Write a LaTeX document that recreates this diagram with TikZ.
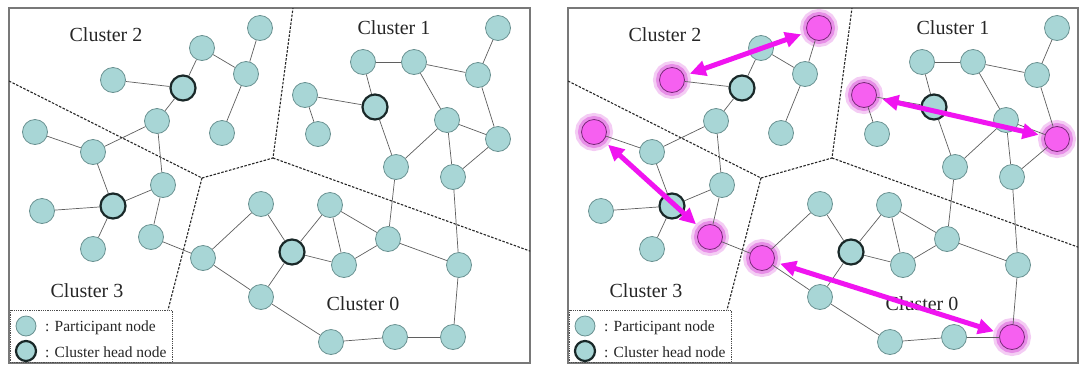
\documentclass[tikz,border=0pt]{standalone}
\usepackage{fontspec}
\setmainfont{Liberation Serif}
\usetikzlibrary{arrows.meta}
\definecolor{nodefill}{RGB}{168,214,214}
\definecolor{nodeline}{RGB}{105,145,145}
\definecolor{headline}{RGB}{25,40,40}
\definecolor{pinkfill}{RGB}{246,96,240}
\definecolor{pinkline}{RGB}{120,40,120}
\definecolor{halo}{RGB}{225,110,225}
\definecolor{arrowc}{RGB}{240,20,240}
\definecolor{edgec}{RGB}{95,95,95}
\definecolor{framec}{RGB}{120,120,120}
\tikzset{
 pnode/.style={circle, minimum size=25pt, inner sep=0pt, fill=nodefill, draw=nodeline, line width=0.8pt},
 chead/.style={pnode, draw=headline, line width=2.2pt},
 pinknode/.style={circle, minimum size=25pt, inner sep=0pt, fill=pinkfill, draw=pinkline, line width=0.8pt,
   preaction={draw=halo, draw opacity=0.35, line width=13pt},
   preaction={draw=halo, draw opacity=0.65, line width=7pt}},
 hl/.style={pnode},
 link/.style={draw=edgec, line width=0.7pt},
 boundary/.style={draw=black!85, line width=1.1pt, dash pattern=on 2.5pt off 1.5pt},
 panelframe/.style={draw=framec, line width=1.5pt},
 lbl/.style={font=\fontsize{20}{24}\selectfont, anchor=base, text=black!85, inner sep=0pt},
 legtxt/.style={font=\fontsize{15.5}{18}\selectfont, anchor=base west, inner sep=0pt, text=black!85},
 legbox/.style={draw=black!70, line width=0.8pt, densely dotted},
 bidir/.style={draw=arrowc, line width=5pt, {Triangle[length=16pt,width=15pt]}-{Triangle[length=16pt,width=15pt]}, shorten <=6pt, shorten >=6pt}
}
\newcommand\drawpanel[2]{%
 \draw[panelframe] (9,8) rectangle (#2,363);
 \begin{scope}
  \clip (9,8) rectangle (#2,363);
  \draw[boundary] (9,81) -- (202,178) -- (273,158) -- (293,8);
  \draw[boundary] (202,178) -- (168,310);
  \draw[boundary] (273,158) -- (545,256.5);
 \end{scope}
 % nodes
 \node[hl] (#1a1) at (260,28) {};
 \node[pnode] (#1a2) at (202,48) {};
 \node[pnode] (#1a3) at (246,74) {};
 \node[hl] (#1a4) at (113,80) {};
 \node[chead] (#1h2) at (183,88) {};
 \node[pnode] (#1a5) at (157,121) {};
 \node[pnode] (#1a6) at (222,133) {};
 \node[hl] (#1a7) at (35,132) {};
 \node[pnode] (#1a8) at (93,152) {};
 \node[pnode] (#1a9) at (163,185) {};
 \node[chead] (#1h3) at (113,206) {};
 \node[pnode] (#1a10) at (42,211) {};
 \node[pnode] (#1a11) at (93,249) {};
 \node[hl] (#1a12) at (151,237) {};
 \node[hl] (#1a13) at (203,258) {};
 \node[pnode] (#1a14) at (261,297) {};
 \node[pnode] (#1a15) at (261,204) {};
 \node[chead] (#1h0) at (292,252) {};
 \node[pnode] (#1a16) at (330,205) {};
 \node[pnode] (#1a17) at (344,265) {};
 \node[pnode] (#1a18) at (388,239) {};
 \node[pnode] (#1a19) at (396,167) {};
 \node[pnode] (#1a20) at (453,177) {};
 \node[pnode] (#1a21) at (459,265) {};
 \node[hl] (#1a22) at (453,337) {};
 \node[pnode] (#1a23) at (395,337) {};
 \node[pnode] (#1a24) at (331,342) {};
 \node[pnode] (#1b1) at (363,62) {};
 \node[pnode] (#1b2) at (414,62) {};
 \node[pnode] (#1b3) at (478,75) {};
 \node[pnode] (#1b4) at (498,28) {};
 \node[hl] (#1b5) at (305,95) {};
 \node[pnode] (#1b6) at (318,134) {};
 \node[chead] (#1h1) at (375,107) {};
 \node[pnode] (#1b7) at (447,120) {};
 \node[hl] (#1b8) at (498,139) {};
 % edges
 \foreach \u/\v in {a2/a3, a3/a1, a3/a6, a2/h2, a4/h2, h2/a5, a5/a8, a8/a7, a5/a9, a8/h3,
   h3/a10, h3/a11, h3/a9, a9/a12, a12/a13, a13/a15, a13/a14, a15/h0, h0/a14, h0/a16, h0/a17,
   a16/a17, a16/a18, a17/a18, a18/a19, a18/a21, a21/a20, a21/a22, a22/a23, a23/a24, a24/a14,
   b1/b2, b2/b3, b3/b4, b2/b7, b3/b8, b1/h1, b5/h1, b5/b6, h1/a19, b7/a19, b7/a20, b7/b8, b8/a20}
   {\draw[link] (#1\u) -- (#1\v);}
 % labels
 \node[lbl] (#1c2) at (106,41) {Cluster 2};
 \node[lbl] (#1c1) at (394,34) {Cluster 1};
 \node[lbl] (#1c3) at (87,297) {Cluster 3};
 \node[lbl] (#1c0) at (363,310) {Cluster 0};
 % legend
 \draw[legbox] (10,310) rectangle (172,362);
 \node[pnode, minimum size=20pt] (#1lp) at (26,326) {};
 \node[chead, minimum size=20pt] (#1lh) at (26,351) {};
 \node[legtxt] (#1lt1) at (45,331) {: Participant node};
 \node[legtxt] (#1lt2) at (45,357) {: Cluster head node};
}
\begin{document}
\begin{tikzpicture}[x=1pt,y=-1pt]
\useasboundingbox[fill=white] (0,0) rectangle (1079,365);
\begin{scope}
 \drawpanel{L}{530}
\end{scope}
\begin{scope}[shift={(559,0)}, hl/.style={pinknode}]
 \drawpanel{R}{519}
 \draw[bidir] (Ra4) -- (Ra1);
 \draw[bidir] (Ra7) -- (Ra12);
 \draw[bidir] (Rb5) -- (Rb8);
 \draw[bidir] (Ra13) -- (Ra22);
\end{scope}
\end{tikzpicture}
\end{document}
